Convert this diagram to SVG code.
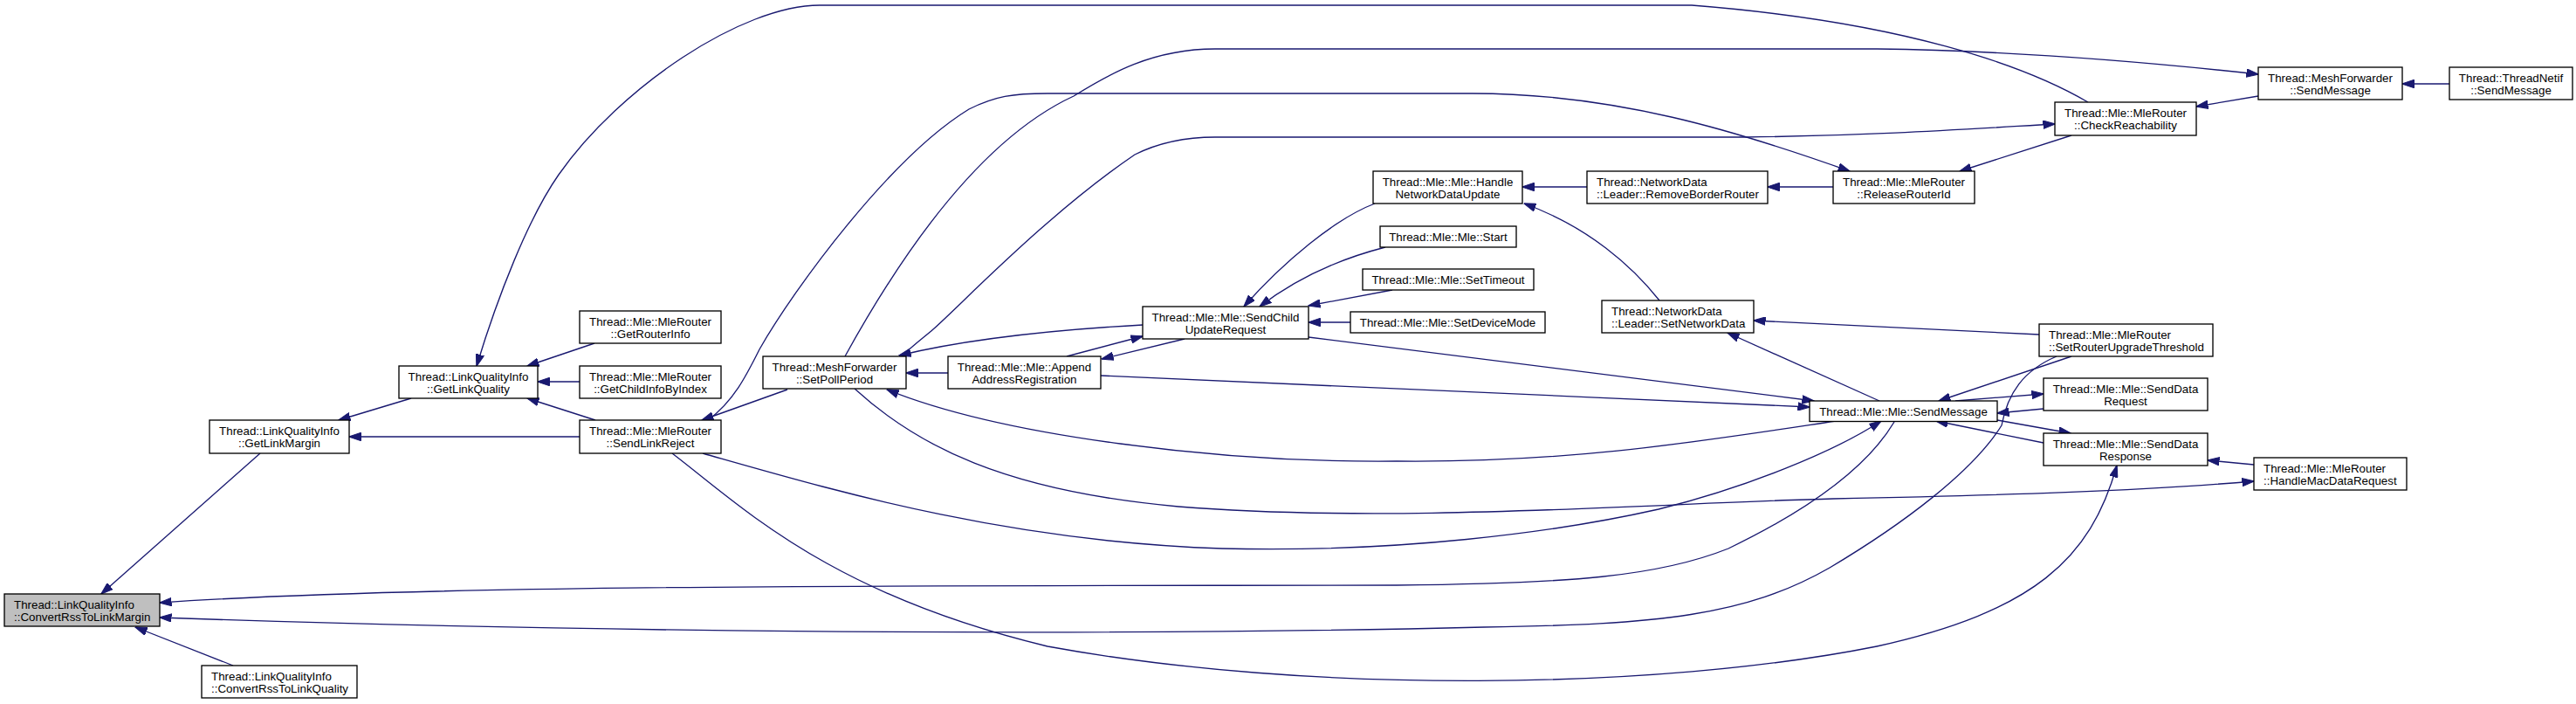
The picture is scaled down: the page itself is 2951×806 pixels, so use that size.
<svg xmlns="http://www.w3.org/2000/svg" width="2951" height="806" viewBox="0 0 2951 806">
<style>
.node rect{fill:#fff;stroke:#000;stroke-width:1.33}
.node.main rect{fill:#bfbfbf}
.node text{font-family:"Liberation Sans",Arial,Helvetica,sans-serif;font-size:13.33px;fill:#000}
.node.c text{text-anchor:middle}
#edges path{fill:none;stroke:#191970;stroke-width:1.33;marker-end:url(#ah)}
</style>
<defs>
<marker id="ah" viewBox="0 0 14 10" refX="13.5" refY="5" markerWidth="14" markerHeight="10" markerUnits="userSpaceOnUse" orient="auto">
<path d="M0,0.3 L14,5 L0,9.7 z" fill="#191970" stroke="#191970" stroke-width="1"/>
</marker>
</defs>
<rect width="2951" height="806" fill="#fff"/>
<g id="edges">
<path d="M298,519 L116,680"/>
<path d="M267,762 L155,718"/>
<path d="M2170,483 C2145,525 2090,575 1980,628 C1900,660 1800,668 1600,670 C1100,671 500,668 183,690"/>
<path d="M2356,408 C2318,424 2300,450 2293,487 C2260,540 2180,600 2096,650 C2000,705 1900,715 1700,718 C1200,730 600,722 183,707"/>
<path d="M471,456 L388,481"/>
<path d="M664,500 L400,500"/>
<path d="M681,393 L604,419"/>
<path d="M664,437 L616,437"/>
<path d="M682,481 L604,456"/>
<path d="M2392,117 C2320,75 2180,25 1938,6 L939,6 C850,6 710,100 640,200 C605,250 570,340 546,419"/>
<path d="M902,446 L804,481"/>
<path d="M811,481 C840,460 855,430 870,400 C910,330 1020,180 1110,125 C1140,110 1160,107 1200,107 L1687,107 C1850,107 1990,150 2119,196"/>
<path d="M1033,408 C1045,396 1060,385 1069,377 C1105,345 1200,245 1300,177 C1330,162 1360,157 1392,157 L2000,157 C2150,155 2250,148 2354,142"/>
<path d="M968,408 C1000,350 1100,170 1230,110 C1270,85 1320,56 1392,56 L2150,56 C2300,58 2450,70 2587,85"/>
<path d="M1309,372 C1200,378 1100,390 1030,407"/>
<path d="M1086,427 L1038,427"/>
<path d="M2103,482 C1950,505 1800,530 1600,528 C1400,530 1150,500 1016,446"/>
<path d="M979,445 C1050,510 1150,562 1350,580 C1600,600 1900,576 2100,571 C2300,567 2450,562 2582,551"/>
<path d="M805,519 C950,560 1150,620 1400,628 C1600,633 1780,610 1900,583 C2000,558 2100,518 2155,482"/>
<path d="M770,519 C850,580 950,680 1200,740 C1500,795 1900,790 2150,740 C2330,700 2395,640 2425,533"/>
<path d="M1499,386 C1700,412 1900,437 2078,459"/>
<path d="M1261,430 C1500,440 1800,454 2073,466"/>
<path d="M1222,408 L1309,385"/>
<path d="M1357,388 L1262,411"/>
<path d="M1575,233 C1530,250 1470,300 1425,351"/>
<path d="M1587,283 C1540,295 1490,315 1443,351"/>
<path d="M1595,332 L1499,350"/>
<path d="M1547,369 L1499,369"/>
<path d="M1818,214 L1744,214"/>
<path d="M1901,344 C1870,305 1820,260 1746,233"/>
<path d="M2100,214 L2025,214"/>
<path d="M2373,155 L2245,196"/>
<path d="M2587,110 L2516,122"/>
<path d="M2806,96 L2752,96"/>
<path d="M2336,383 L2009,367"/>
<path d="M2153,459 L1979,381"/>
<path d="M2373,408 L2221,459"/>
<path d="M2240,459 L2341,451"/>
<path d="M2341,468 L2288,473"/>
<path d="M2288,481 L2372,496"/>
<path d="M2341,507 L2218,482"/>
<path d="M2582,532 L2529,527"/>
</g>
<g id="n_crlm" class="node main"><rect x="5" y="680" width="178" height="37"/><text x="16" y="696.5">Thread::LinkQualityInfo</text><text x="16" y="710.5">::ConvertRssToLinkMargin</text></g>
<g id="n_crlq" class="node"><rect x="231" y="762" width="178" height="37"/><text x="242" y="778.5">Thread::LinkQualityInfo</text><text x="242" y="792.5">::ConvertRssToLinkQuality</text></g>
<g id="n_glm" class="node c"><rect x="240" y="481" width="160" height="38"/><text x="320" y="497.5">Thread::LinkQualityInfo</text><text x="320" y="511.5">::GetLinkMargin</text></g>
<g id="n_glq" class="node c"><rect x="457" y="419" width="159" height="37"/><text x="536.5" y="435.5">Thread::LinkQualityInfo</text><text x="536.5" y="449.5">::GetLinkQuality</text></g>
<g id="n_gri" class="node c"><rect x="664" y="356" width="162" height="37"/><text x="745" y="372.5">Thread::Mle::MleRouter</text><text x="745" y="386.5">::GetRouterInfo</text></g>
<g id="n_gcibi" class="node c"><rect x="664" y="419" width="162" height="37"/><text x="745" y="435.5">Thread::Mle::MleRouter</text><text x="745" y="449.5">::GetChildInfoByIndex</text></g>
<g id="n_slr" class="node c"><rect x="664" y="481" width="162" height="38"/><text x="745" y="497.5">Thread::Mle::MleRouter</text><text x="745" y="511.5">::SendLinkReject</text></g>
<g id="n_spp" class="node c"><rect x="874" y="408" width="164" height="37"/><text x="956" y="424.5">Thread::MeshForwarder</text><text x="956" y="438.5">::SetPollPeriod</text></g>
<g id="n_aar" class="node c"><rect x="1086" y="408" width="175" height="37"/><text x="1173.5" y="424.5">Thread::Mle::Mle::Append</text><text x="1173.5" y="438.5">AddressRegistration</text></g>
<g id="n_scur" class="node c"><rect x="1309" y="351" width="190" height="37"/><text x="1404" y="367.5">Thread::Mle::Mle::SendChild</text><text x="1404" y="381.5">UpdateRequest</text></g>
<g id="n_hndu" class="node c"><rect x="1573" y="196" width="171" height="37"/><text x="1658.5" y="212.5">Thread::Mle::Mle::Handle</text><text x="1658.5" y="226.5">NetworkDataUpdate</text></g>
<g id="n_start" class="node c"><rect x="1581" y="259" width="156" height="24"/><text x="1659" y="276">Thread::Mle::Mle::Start</text></g>
<g id="n_sto" class="node c"><rect x="1561" y="308" width="196" height="24"/><text x="1659" y="325">Thread::Mle::Mle::SetTimeout</text></g>
<g id="n_sdm" class="node c"><rect x="1547" y="357" width="223" height="24"/><text x="1658.5" y="374">Thread::Mle::Mle::SetDeviceMode</text></g>
<g id="n_rbr" class="node"><rect x="1818" y="196" width="207" height="37"/><text x="1829" y="212.5">Thread::NetworkData</text><text x="1829" y="226.5">::Leader::RemoveBorderRouter</text></g>
<g id="n_snd" class="node"><rect x="1835" y="344" width="174" height="37"/><text x="1846" y="360.5">Thread::NetworkData</text><text x="1846" y="374.5">::Leader::SetNetworkData</text></g>
<g id="n_rri" class="node c"><rect x="2100" y="196" width="162" height="37"/><text x="2181" y="212.5">Thread::Mle::MleRouter</text><text x="2181" y="226.5">::ReleaseRouterId</text></g>
<g id="n_sm" class="node c"><rect x="2073" y="459" width="215" height="23.5"/><text x="2180.5" y="475.5">Thread::Mle::Mle::SendMessage</text></g>
<g id="n_cr" class="node c"><rect x="2354" y="117" width="162" height="38"/><text x="2435" y="133.5">Thread::Mle::MleRouter</text><text x="2435" y="147.5">::CheckReachability</text></g>
<g id="n_srut" class="node"><rect x="2336" y="371" width="199" height="37"/><text x="2347" y="387.5">Thread::Mle::MleRouter</text><text x="2347" y="401.5">::SetRouterUpgradeThreshold</text></g>
<g id="n_sdreq" class="node c"><rect x="2341" y="433" width="188" height="37"/><text x="2435" y="449.5">Thread::Mle::Mle::SendData</text><text x="2435" y="463.5">Request</text></g>
<g id="n_sdres" class="node c"><rect x="2341" y="496" width="188" height="37"/><text x="2435" y="512.5">Thread::Mle::Mle::SendData</text><text x="2435" y="526.5">Response</text></g>
<g id="n_mfsm" class="node c"><rect x="2587" y="77" width="165" height="37"/><text x="2669.5" y="93.5">Thread::MeshForwarder</text><text x="2669.5" y="107.5">::SendMessage</text></g>
<g id="n_hmdr" class="node"><rect x="2582" y="524" width="175" height="37"/><text x="2593" y="540.5">Thread::Mle::MleRouter</text><text x="2593" y="554.5">::HandleMacDataRequest</text></g>
<g id="n_tnsm" class="node c"><rect x="2806" y="77" width="141" height="37"/><text x="2876.5" y="93.5">Thread::ThreadNetif</text><text x="2876.5" y="107.5">::SendMessage</text></g>
</svg>
